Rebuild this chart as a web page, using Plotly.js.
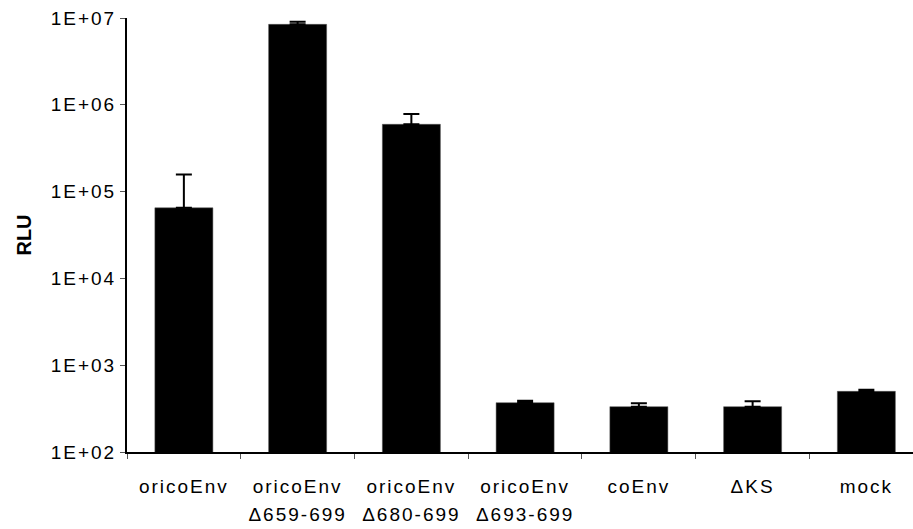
<!DOCTYPE html>
<html>
<head>
<meta charset="utf-8">
<script src="https://cdn.plot.ly/plotly-3.0.1.min.js"></script>
<style>
html, body { margin: 0; padding: 0; background: #fff; }
#chart { width: 913px; height: 529px; }
.xtick text { letter-spacing: 2px; }
.ytick text { letter-spacing: 2px; }
</style>
</head>
<body>
<div id="chart"></div>
<script>
const categories = ["oricoEnv", "oricoEnv<br>Δ659-699", "oricoEnv<br>Δ680-699", "oricoEnv<br>Δ693-699", "coEnv", "ΔKS", "mock"];
const rluValues = [65000, 8450000, 596000, 370, 333, 333, 500];
const errorTops = [157000, 9060000, 783000, 390, 364, 384, 522];
const yTickVals = [1e2, 1e3, 1e4, 1e5, 1e6, 1e7];
const yTickText = ["1E+02", "1E+03", "1E+04", "1E+05", "1E+06", "1E+07"];

const errPlus = rluValues.map((v, i) => errorTops[i] - v);

const trace = {
  type: "bar",
  x: categories,
  y: rluValues,
  width: 0.51,
  marker: { color: "#000000", line: { color: "#555555", width: 0.5 } },
  error_y: {
    type: "data",
    symmetric: false,
    array: errPlus,
    arrayminus: rluValues.map(() => 0),
    color: "#000000",
    thickness: 2,
    width: 8
  },
  hoverinfo: "none"
};

const layout = {
  width: 913,
  height: 529,
  margin: { l: 127, r: 0, t: 18, b: 77, pad: 0 },
  paper_bgcolor: "#ffffff",
  plot_bgcolor: "#ffffff",
  showlegend: false,
  font: { family: "Liberation Sans, Arial, sans-serif", color: "#000000" },
  xaxis: {
    type: "category",
    range: [-0.5, 6.41],
    showline: true,
    linecolor: "#000000",
    linewidth: 2,
    ticks: "outside",
    tickson: "boundaries",
    ticklen: 5,
    tickcolor: "#555555",
    tickwidth: 1,
    ticklabelstandoff: 16,
    showgrid: false,
    zeroline: false,
    tickfont: { size: 19, family: "Liberation Sans, Arial, sans-serif", color: "#000000" },
    automargin: false
  },
  yaxis: {
    type: "log",
    range: [2, 7],
    showline: true,
    linecolor: "#000000",
    linewidth: 2,
    ticks: "outside",
    ticklen: 5,
    tickcolor: "#555555",
    tickwidth: 1,
    showgrid: false,
    zeroline: false,
    tickvals: yTickVals,
    ticktext: yTickText,
    tickfont: { size: 19, family: "Liberation Sans, Arial, sans-serif", color: "#000000" },
    title: { text: "<b>RLU</b>", font: { size: 20, family: "Liberation Sans, Arial, sans-serif", color: "#000000" }, standoff: 14 },
    automargin: false
  }
};

Plotly.newPlot("chart", [trace], layout, { staticPlot: true, displayModeBar: false }).then(function () {
  document.querySelectorAll(".xtick text tspan.line").forEach(function (t) {
    const dy = t.getAttribute("dy");
    if (dy && parseFloat(dy) > 0) t.setAttribute("dy", "28px");
  });
});
</script>
</body>
</html>
